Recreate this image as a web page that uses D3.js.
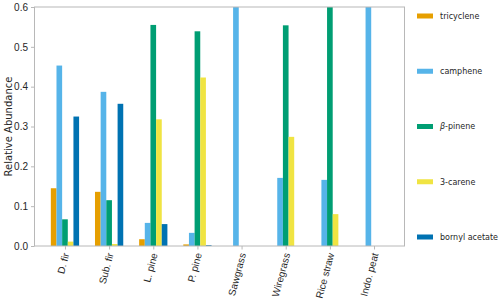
<!DOCTYPE html>
<html>
<head>
<meta charset="utf-8">
<script src="https://cdn.jsdelivr.net/npm/d3@7"></script>
<style>
  body { margin: 0; background: #fff; }
  svg { font-family: "DejaVu Sans", sans-serif; }
</style>
</head>
<body>
<div class="chart"></div>
<script>
// fuel types on the x axis
const fuels = ["D. fir", "Sub. fir", "L. pine", "P. pine", "Sawgrass", "Wiregrass", "Rice straw", "Indo. peat"]

// compounds (legend order)
const compounds = ["tricyclene", "camphene", "β-pinene", "3-carene", "bornyl acetate"]
const colors = ["#E69F00", "#56B4E9", "#009E73", "#F0E442", "#0072B2"]

// relative abundance per compound, one value per fuel
const tricyclene = [0.145, 0.136, 0.017, 0.004, 0, 0, 0, 0]
const camphene = [0.453, 0.387, 0.058, 0.033, 0.70, 0.171, 0.166, 0.70]
const betaPinene = [0.067, 0.115, 0.555, 0.539, 0, 0.554, 0.66, 0]
const carene = [0.011, 0.005, 0.318, 0.423, 0, 0.274, 0.080, 0]
const bornylAcetate = [0.325, 0.357, 0.055, 0.002, 0, 0, 0, 0]

const series = [tricyclene, camphene, betaPinene, carene, bornylAcetate]

const yTicks = [0, 0.1, 0.2, 0.3, 0.4, 0.5, 0.6]

// layout
const width = 500
const height = 304
const margin = { top: 7, right: 95.5, bottom: 58, left: 34.5 }
const gray = "#b8b8b8"

const x = d3.scaleLinear()
  .domain([-0.69, fuels.length - 0.31])
  .range([margin.left, width - margin.right])

const y = d3.scaleLinear()
  .domain([0, 0.6])
  .range([height - margin.bottom, margin.top])

const barW = 0.128

const svg = d3.select(".chart")
  .append("svg")
  .attr("width", width)
  .attr("height", height)

svg.append("defs").append("clipPath")
  .attr("id", "plot")
  .append("rect")
  .attr("x", margin.left)
  .attr("y", margin.top)
  .attr("width", x.range()[1] - x.range()[0])
  .attr("height", y.range()[0] - y.range()[1])

// bars
const bars = svg.append("g").attr("clip-path", "url(#plot)")
series.forEach((vals, s) => {
  bars.selectAll(null)
    .data(vals)
    .enter()
    .append("rect")
    .attr("x", (d, i) => x(i + (s - 2.5) * barW))
    .attr("width", x(barW) - x(0))
    .attr("y", (d) => y(d))
    .attr("height", (d) => y(0) - y(d))
    .attr("fill", colors[s])
})

// frame
svg.append("rect")
  .attr("x", margin.left)
  .attr("y", margin.top)
  .attr("width", x.range()[1] - x.range()[0])
  .attr("height", y.range()[0] - y.range()[1])
  .attr("fill", "none")
  .attr("stroke", gray)
  .attr("stroke-width", 1)

// y-axis
const yAxis = d3.axisLeft(y)
  .tickValues(yTicks)
  .tickFormat(d3.format(".1f"))
  .tickSize(3.5)
  .tickPadding(3)
const gy = svg.append("g")
  .attr("transform", "translate(" + margin.left + ",0)")
  .call(yAxis)
gy.select(".domain").remove()
gy.selectAll("line").attr("stroke", gray)
gy.selectAll("text").attr("font-size", 10).attr("fill", "#262626")

// x-axis
const xAxis = d3.axisBottom(x)
  .tickValues(d3.range(fuels.length))
  .tickFormat((d) => fuels[d])
  .tickSize(3.5)
const gx = svg.append("g")
  .attr("transform", "translate(0," + (height - margin.bottom) + ")")
  .call(xAxis)
gx.select(".domain").remove()
gx.selectAll("line").attr("stroke", gray)
gx.selectAll("text")
  .attr("font-size", 10)
  .attr("fill", "#262626")
  .attr("text-anchor", "end")
  .attr("dy", null)
  .attr("y", 0)
  .attr("transform", "translate(4,8) rotate(-75)")

// y label
svg.append("text")
  .attr("transform", "translate(12," + ((margin.top + height - margin.bottom) / 2) + ") rotate(-90)")
  .attr("text-anchor", "middle")
  .attr("font-size", 10)
  .attr("fill", "#262626")
  .text("Relative Abundance")

// legend
const legendY = d3.scalePoint()
  .domain(compounds)
  .range([16, 237])

const legend = svg.append("g")
  .selectAll("g")
  .data(compounds)
  .enter()
  .append("g")
  .attr("transform", (d) => "translate(417," + legendY(d) + ")")

legend.append("rect")
  .attr("x", 0)
  .attr("y", -2.5)
  .attr("width", 16)
  .attr("height", 5)
  .attr("fill", (d, i) => colors[i])

legend.append("text")
  .attr("x", 23)
  .attr("y", 0)
  .attr("dy", "0.35em")
  .attr("font-size", 8)
  .attr("fill", "#262626")
  .each(function (d) {
    const t = d3.select(this)
    if (d.startsWith("β")) {
      t.append("tspan").attr("font-style", "italic").text("β")
      t.append("tspan").text(d.slice(1))
    } else {
      t.text(d)
    }
  })
</script>
</body>
</html>
